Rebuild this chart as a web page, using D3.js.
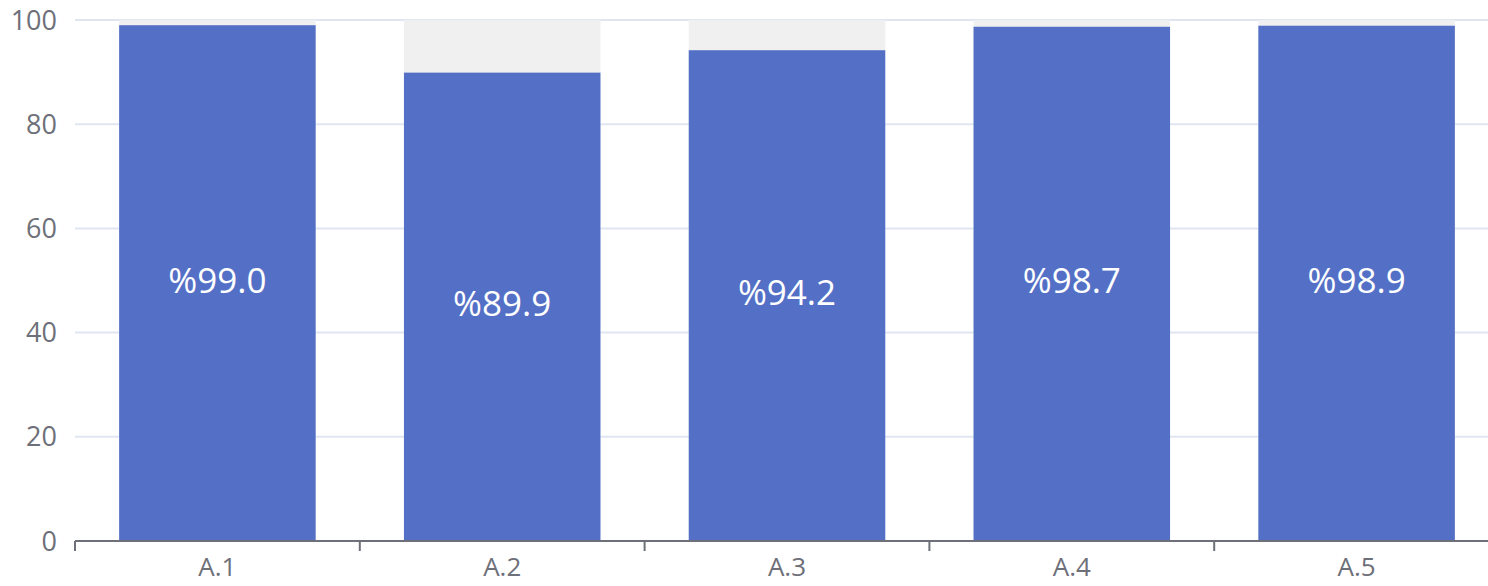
<!DOCTYPE html>
<html>
<head>
<meta charset="utf-8">
<script src="https://cdn.jsdelivr.net/npm/d3@7/dist/d3.min.js"></script>
<style>
  html, body { margin: 0; padding: 0; background: #fff; overflow: hidden; }
  svg { display: block; }
  text { font-family: "Open Sans", "Noto Sans", sans-serif; }
</style>
</head>
<body>
<svg id="chart" width="1488" height="586"></svg>
<script>
const categories = ["A.1", "A.2", "A.3", "A.4", "A.5"];
const values = [99.0, 89.9, 94.2, 98.7, 98.9];
const labels = ["%99.0", "%89.9", "%94.2", "%98.7", "%98.9"];
const yTicks = [0, 20, 40, 60, 80, 100];
const yMax = 100;

const svg = d3.select("#chart");
const mLeft = 75, mRight = 1499, mTop = 20, mBottom = 541;

const x = d3.scaleBand().domain(categories).range([mLeft, mRight]).paddingInner(0.31).paddingOuter(0.155);
const xb = d3.scaleBand().domain(categories).range([mLeft, mRight]);
const y = d3.scaleLinear().domain([0, yMax]).range([mBottom, mTop]);

// grid lines
svg.append("g").selectAll("line").data(yTicks.filter(d => d > 0)).join("line")
  .attr("x1", mLeft).attr("x2", 1488)
  .attr("y1", d => y(d)).attr("y2", d => y(d))
  .attr("stroke", "#e0e6f1").attr("stroke-width", 2);

// background bars
svg.append("g").selectAll("rect").data(categories).join("rect")
  .attr("x", d => x(d)).attr("width", x.bandwidth())
  .attr("y", y(yMax)).attr("height", y(0) - y(yMax))
  .attr("fill", "#f0f0f0");

// bars
svg.append("g").selectAll("rect").data(values).join("rect")
  .attr("x", (d, i) => x(categories[i])).attr("width", x.bandwidth())
  .attr("y", d => y(d)).attr("height", d => y(0) - y(d))
  .attr("fill", "#5470c6");

// bar labels
svg.append("g").selectAll("text").data(values).join("text")
  .attr("x", (d, i) => x(categories[i]) + x.bandwidth() / 2)
  .attr("y", d => (y(d) + y(0)) / 2 - 4)
  .attr("text-anchor", "middle").attr("dominant-baseline", "central")
  .attr("fill", "#fff").attr("font-size", 35)
  .text((d, i) => labels[i]);

// x axis
const xAxis = svg.append("g").attr("transform", `translate(0,${mBottom})`);
xAxis.append("line").attr("x1", mLeft).attr("x2", 1488).attr("stroke", "#6e7079").attr("stroke-width", 2);
xAxis.selectAll(".tk").data(categories).join("line").attr("class", "tk")
  .attr("x1", d => xb(d)).attr("x2", d => xb(d)).attr("y1", 0).attr("y2", 10)
  .attr("stroke", "#6e7079").attr("stroke-width", 2);
xAxis.selectAll("text").data(categories).join("text")
  .attr("x", d => xb(d) + xb.bandwidth() / 2).attr("y", 25)
  .attr("text-anchor", "middle").attr("dominant-baseline", "central")
  .attr("fill", "#6e7079").attr("font-size", 26)
  .text(d => d);

// y axis labels
svg.append("g").selectAll("text").data(yTicks).join("text")
  .attr("x", 57).attr("y", d => y(d) - 1)
  .attr("text-anchor", "end").attr("dominant-baseline", "central")
  .attr("fill", "#6e7079").attr("font-size", 27)
  .text(d => d);
</script>
</body>
</html>
